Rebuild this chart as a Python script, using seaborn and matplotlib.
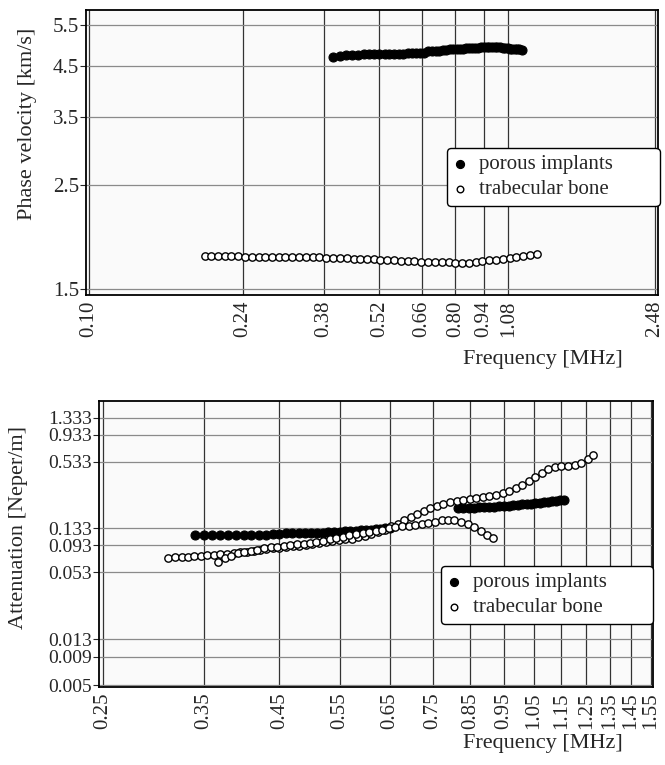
import matplotlib
matplotlib.use("Agg")
import matplotlib.pyplot as plt
import seaborn as sns

# ---- top panel: phase velocity ----
vel_freq_implant = [0.400, 0.415, 0.430, 0.445, 0.460, 0.475, 0.490, 0.505, 0.520, 0.535,
                    0.550, 0.565, 0.580, 0.595, 0.610, 0.625, 0.640, 0.655, 0.670, 0.685,
                    0.700, 0.715, 0.730, 0.745, 0.760, 0.775, 0.790, 0.805, 0.820, 0.835,
                    0.850, 0.865, 0.880, 0.895, 0.910, 0.925, 0.940, 0.955, 0.970, 0.985,
                    1.000, 1.015, 1.030, 1.045, 1.060, 1.075, 1.090, 1.105, 1.120, 1.135,
                    1.150, 1.165]
vel_implant = [4.71, 4.73, 4.74, 4.75, 4.75, 4.76, 4.77, 4.77, 4.77, 4.78,
               4.78, 4.78, 4.78, 4.78, 4.79, 4.79, 4.79, 4.79, 4.80, 4.83,
               4.84, 4.85, 4.85, 4.86, 4.87, 4.88, 4.89, 4.89, 4.90, 4.90,
               4.91, 4.91, 4.91, 4.92, 4.92, 4.93, 4.93, 4.94, 4.94, 4.94,
               4.93, 4.93, 4.93, 4.92, 4.92, 4.91, 4.90, 4.90, 4.89, 4.88,
               4.88, 4.87]

vel_freq_bone = [0.193, 0.200, 0.208, 0.216, 0.224, 0.233, 0.242, 0.252, 0.262, 0.272,
                 0.283, 0.294, 0.305, 0.317, 0.330, 0.343, 0.356, 0.370, 0.385, 0.400,
                 0.415, 0.432, 0.449, 0.466, 0.485, 0.504, 0.523, 0.544, 0.565, 0.587,
                 0.610, 0.634, 0.659, 0.685, 0.712, 0.740, 0.769, 0.799, 0.830, 0.863,
                 0.897, 0.932, 0.968, 1.006, 1.046, 1.087, 1.129, 1.174, 1.220, 1.268]
vel_bone = [1.766, 1.766, 1.765, 1.765, 1.764, 1.764, 1.763, 1.763, 1.762, 1.760,
            1.758, 1.757, 1.758, 1.757, 1.756, 1.757, 1.756, 1.757, 1.755, 1.752,
            1.750, 1.748, 1.746, 1.745, 1.742, 1.740, 1.736, 1.733, 1.730, 1.727,
            1.724, 1.722, 1.720, 1.719, 1.717, 1.715, 1.713, 1.710, 1.707, 1.712,
            1.718, 1.724, 1.730, 1.738, 1.745, 1.750, 1.760, 1.770, 1.778, 1.782]

vel_xticks = [0.10, 0.24, 0.38, 0.52, 0.66, 0.80, 0.94, 1.08, 2.48]
vel_yticks = [1.5, 2.5, 3.5, 4.5, 5.5]

# ---- bottom panel: attenuation ----
att_freq_implant = [0.34, 0.35, 0.36, 0.37, 0.38, 0.39, 0.40, 0.41, 0.42, 0.43,
                    0.44, 0.45, 0.46, 0.47, 0.48, 0.49, 0.50, 0.51, 0.52, 0.53,
                    0.54, 0.55, 0.56, 0.57, 0.58, 0.59, 0.60, 0.61, 0.62, 0.63,
                    0.64, 0.65,
                    0.815, 0.830, 0.845, 0.860, 0.875, 0.890, 0.905, 0.920, 0.935, 0.950,
                    0.965, 0.980, 0.995, 1.010, 1.025, 1.040, 1.055, 1.070, 1.085, 1.100,
                    1.115, 1.130, 1.145, 1.160]
att_implant = [0.115, 0.115, 0.115, 0.115, 0.116, 0.116, 0.116, 0.116, 0.116, 0.116,
               0.117, 0.117, 0.119, 0.119, 0.119, 0.120, 0.120, 0.121, 0.121, 0.122,
               0.122, 0.123, 0.124, 0.125, 0.126, 0.127, 0.128, 0.129, 0.130, 0.131,
               0.132, 0.134,
               0.203, 0.202, 0.203, 0.204, 0.205, 0.206, 0.207, 0.208, 0.210, 0.211,
               0.213, 0.214, 0.216, 0.218, 0.220, 0.222, 0.224, 0.226, 0.229, 0.231,
               0.233, 0.235, 0.238, 0.241]

att_freq_bone_a = [0.311, 0.318, 0.325, 0.332, 0.339, 0.347, 0.354, 0.362, 0.370, 0.378,
                   0.387, 0.395, 0.404, 0.413, 0.422, 0.431, 0.441, 0.450, 0.460, 0.471,
                   0.481, 0.492, 0.502, 0.513, 0.525, 0.536, 0.548, 0.560, 0.573, 0.585,
                   0.598, 0.611, 0.625, 0.639, 0.653, 0.667, 0.682, 0.697, 0.712, 0.728,
                   0.744, 0.760, 0.777, 0.794, 0.812, 0.830, 0.848, 0.867, 0.886, 0.905,
                   0.925, 0.946, 0.966, 0.988, 1.010, 1.032, 1.055, 1.078, 1.101, 1.126,
                   1.150, 1.176, 1.202, 1.228, 1.255, 1.277]
att_bone_a = [0.071, 0.072, 0.072, 0.073, 0.074, 0.075, 0.076, 0.076, 0.077, 0.078,
              0.079, 0.080, 0.081, 0.083, 0.084, 0.086, 0.087, 0.088, 0.089, 0.091,
              0.092, 0.094, 0.095, 0.097, 0.099, 0.101, 0.103, 0.105, 0.107, 0.110,
              0.113, 0.117, 0.122, 0.129, 0.138, 0.146, 0.156, 0.167, 0.178, 0.190,
              0.202, 0.213, 0.222, 0.229, 0.235, 0.239, 0.243, 0.248, 0.253, 0.258,
              0.265, 0.276, 0.290, 0.308, 0.330, 0.355, 0.385, 0.420, 0.455, 0.475,
              0.487, 0.492, 0.496, 0.515, 0.560, 0.614]

att_freq_bone_b = [0.367, 0.375, 0.383, 0.392, 0.400, 0.409, 0.418, 0.428, 0.437, 0.447,
                   0.457, 0.467, 0.477, 0.488, 0.498, 0.509, 0.521, 0.532, 0.544, 0.556,
                   0.568, 0.581, 0.594, 0.607, 0.620, 0.634, 0.648, 0.662, 0.677, 0.692,
                   0.707, 0.723, 0.739, 0.755, 0.772, 0.789, 0.806, 0.824, 0.842, 0.861,
                   0.880, 0.899, 0.915]
att_bone_b = [0.066, 0.071, 0.075, 0.079, 0.081, 0.083, 0.085, 0.087, 0.089, 0.090,
              0.092, 0.093, 0.095, 0.096, 0.098, 0.100, 0.102, 0.105, 0.108, 0.111,
              0.114, 0.117, 0.120, 0.123, 0.126, 0.129, 0.133, 0.136, 0.138, 0.140,
              0.142, 0.145, 0.148, 0.152, 0.156, 0.158, 0.157, 0.152, 0.144, 0.135,
              0.125, 0.116, 0.109]

att_xticks = [0.25, 0.35, 0.45, 0.55, 0.65, 0.75, 0.85, 0.95, 1.05, 1.15, 1.25, 1.35, 1.45, 1.55]
att_yticks = [0.005, 0.009, 0.013, 0.053, 0.093, 0.133, 0.533, 0.933, 1.333]

sns.set_style("white")
plt.rcParams['font.family'] = ['Liberation Serif', 'DejaVu Serif']

fig = plt.figure(figsize=(6.65, 7.65), dpi=100)
ax1 = fig.add_axes([0.1293, 0.6144, 0.860, 0.3725])
ax2 = fig.add_axes([0.1489, 0.1020, 0.833, 0.3739])

filled = dict(color='black', edgecolor='black', s=42, linewidth=0.8, marker='o')
hollow = dict(color='white', edgecolor='black', s=28, linewidth=1.0, marker='o')

# top
sns.scatterplot(x=vel_freq_implant, y=vel_implant, ax=ax1, label='porous implants', zorder=3, **filled)
sns.scatterplot(x=vel_freq_bone, y=vel_bone, ax=ax1, label='trabecular bone', zorder=3, **hollow)

# bottom
sns.scatterplot(x=att_freq_implant, y=att_implant, ax=ax2, label='porous implants', zorder=3, **filled)
sns.scatterplot(x=att_freq_bone_a, y=att_bone_a, ax=ax2, label='trabecular bone', zorder=3, **hollow)
sns.scatterplot(x=att_freq_bone_b, y=att_bone_b, ax=ax2, zorder=3, **hollow)


def style_axes(ax, xticks, yticks, xlim, ylim, xfmt, yfmt, ysize):
    ax.set_xscale('log')
    ax.set_yscale('log')
    ax.set_xlim(*xlim)
    ax.set_ylim(*ylim)
    ax.set_xticks(xticks)
    ax.set_xticklabels([xfmt % t for t in xticks], rotation=90)
    ax.set_yticks(yticks)
    ax.set_yticklabels([yfmt % t for t in yticks])
    ax.minorticks_off()
    ax.set_facecolor('#fafafa')
    ax.grid(True, axis='x', color='#333333', linewidth=0.9)
    ax.grid(True, axis='y', color='#8a8a8a', linewidth=0.9)
    ax.set_axisbelow(True)
    ax.tick_params(axis='y', direction='out', length=4, width=0.8, labelsize=ysize, pad=1, left=True)
    ax.tick_params(axis='x', length=0, labelsize=15, pad=4)
    for sp in ax.spines.values():
        sp.set_color('black')
        sp.set_linewidth(1.3)


style_axes(ax1, vel_xticks, vel_yticks, (0.0985, 2.52), (1.46, 5.92), '%.2f', '%.1f', 15)
style_axes(ax2, att_xticks, att_yticks, (0.247, 1.56), (0.0048, 1.9), '%.2f', '%.3f', 14)

ax1.set_xlabel('Frequency [MHz]', fontsize=16, ha='right', va='center')
ax1.xaxis.set_label_coords(0.939, -0.225)
ax1.set_ylabel('Phase velocity [km/s]', fontsize=16, va='center')
ax1.yaxis.set_label_coords(-0.103, 0.60)

ax2.set_xlabel('Frequency [MHz]', fontsize=16, ha='right', va='center')
ax2.xaxis.set_label_coords(0.946, -0.196)
ax2.set_ylabel('Attenuation [Neper/m]', fontsize=16, va='center')
ax2.yaxis.set_label_coords(-0.146, 0.559)

leg_kw = dict(loc='center', mode='expand', fontsize=15, frameon=True, fancybox=True,
              edgecolor='black', framealpha=1, handlelength=0.6, handletextpad=0.6,
              labelspacing=0.25, borderpad=0.35, borderaxespad=0, markerscale=0.9)
l1 = ax1.legend(bbox_to_anchor=(0.631, 0.319, 0.372, 0.19), **leg_kw)
l2 = ax2.legend(bbox_to_anchor=(0.617, 0.227, 0.383, 0.189), **leg_kw)
for leg in (l1, l2):
    leg.get_frame().set_linewidth(1.0)

fig.savefig('out.png', dpi=100)
